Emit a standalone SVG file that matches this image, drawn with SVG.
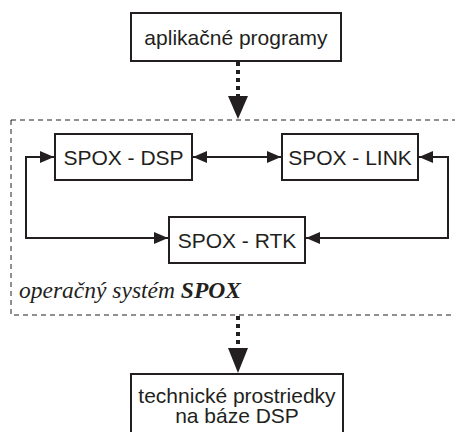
<svg xmlns="http://www.w3.org/2000/svg" width="455" height="432" viewBox="0 0 455 432">
<defs>
<style>
.box{fill:#fff;stroke:#231f20;stroke-width:2}
.t{font-family:"Liberation Sans",Arial,sans-serif;font-size:21px;fill:#231f20;text-anchor:middle}
.ln{fill:none;stroke:#231f20;stroke-width:2}
.dot{fill:none;stroke:#231f20;stroke-width:4;stroke-dasharray:4 4}
.frame{fill:none;stroke:#231f20;stroke-width:1;stroke-dasharray:5 4}
.lbl{font-family:"Liberation Serif","Times New Roman",serif;font-size:23.5px;font-style:italic;fill:#231f20}
</style>
<marker id="ah" viewBox="0 0 14 12" refX="14" refY="6" markerWidth="14" markerHeight="12" markerUnits="userSpaceOnUse" orient="auto-start-reverse">
<path d="M0,0 L14,6 L0,12 Z" fill="#231f20"/>
</marker>
</defs>
<rect id="frame" class="frame" x="11" y="120" width="460" height="195"/>
<text class="lbl" x="19" y="298">operačný systém <tspan font-weight="bold">SPOX</tspan></text>
<g id="connectors">
<path class="dot" d="M238,62 V97"/>
<path d="M228,96 L248,96 L238,119 Z" fill="#231f20"/>
<path class="dot" d="M238,316 V349"/>
<path d="M228,348 L248,348 L238,373 Z" fill="#231f20"/>
<path class="ln" d="M193,157 H281" marker-start="url(#ah)" marker-end="url(#ah)"/>
<path class="ln" d="M168,238 H26 V157 H54" marker-start="url(#ah)" marker-end="url(#ah)"/>
<path class="ln" d="M306,238 H448 V157 H419" marker-start="url(#ah)" marker-end="url(#ah)"/>
</g>
<g id="n-app">
<rect class="box" x="131" y="13" width="210" height="48"/>
<text class="t" x="236" y="44.5">aplikačné programy</text>
</g>
<g id="n-dsp">
<rect class="box" x="55" y="134" width="137" height="46"/>
<text class="t" x="123.5" y="164.5">SPOX - DSP</text>
</g>
<g id="n-link">
<rect class="box" x="282" y="134" width="136" height="46"/>
<text class="t" x="350" y="164.5">SPOX - LINK</text>
</g>
<g id="n-rtk">
<rect class="box" x="169" y="217" width="136" height="46"/>
<text class="t" x="237" y="247.5">SPOX - RTK</text>
</g>
<g id="n-hw">
<rect class="box" x="131" y="374" width="212" height="60"/>
<text class="t" x="237" y="403">technické prostriedky</text>
<text class="t" x="237" y="423">na báze DSP</text>
</g>
</svg>
